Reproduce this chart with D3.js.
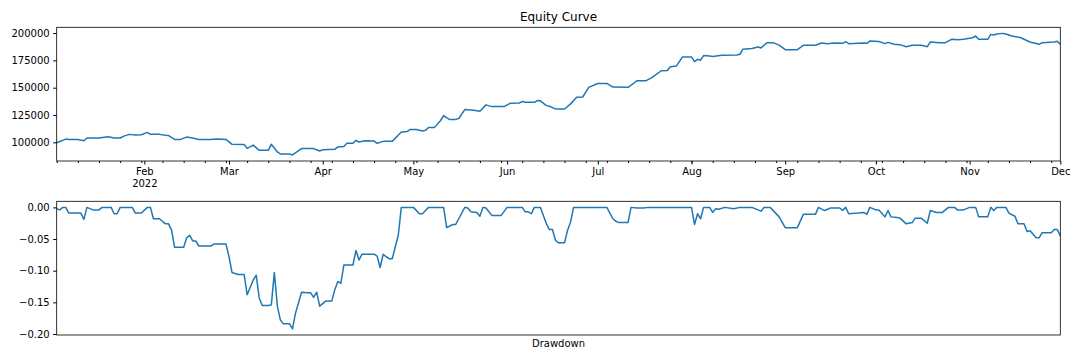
<!DOCTYPE html>
<html>
<head>
<meta charset="utf-8">
<script src="https://cdn.jsdelivr.net/npm/d3@7"></script>
<style>
  body { margin: 0; background: #fff; }
  svg { display: block; font-family: "DejaVu Sans", sans-serif; }
</style>
</head>
<body>
<svg id="chart" width="1080" height="360"></svg>
<script>
// equity curve
const equityDates = [
  "2022-01-03","2022-01-06","2022-01-07","2022-01-10","2022-01-12","2022-01-13","2022-01-17","2022-01-20",
  "2022-01-22","2022-01-24","2022-01-25","2022-01-27","2022-01-29","2022-01-31","2022-02-02","2022-02-03",
  "2022-02-06","2022-02-08","2022-02-09","2022-02-11","2022-02-13","2022-02-15","2022-02-17","2022-02-19",
  "2022-02-23","2022-02-25","2022-02-28","2022-03-02","2022-03-06","2022-03-07","2022-03-09","2022-03-11",
  "2022-03-14","2022-03-15","2022-03-17","2022-03-18","2022-03-21","2022-03-22","2022-03-25","2022-03-29",
  "2022-03-31","2022-04-01","2022-04-05","2022-04-06","2022-04-08","2022-04-09","2022-04-11","2022-04-12",
  "2022-04-13","2022-04-15","2022-04-18","2022-04-19","2022-04-21","2022-04-24","2022-04-27","2022-04-29",
  "2022-04-30","2022-05-02","2022-05-04","2022-05-05","2022-05-06","2022-05-08","2022-05-10","2022-05-11",
  "2022-05-13","2022-05-15","2022-05-16","2022-05-18","2022-05-21","2022-05-23","2022-05-25","2022-05-27",
  "2022-05-31","2022-06-02","2022-06-05","2022-06-06","2022-06-07","2022-06-10","2022-06-11","2022-06-12",
  "2022-06-14","2022-06-15","2022-06-17","2022-06-20","2022-06-22","2022-06-24","2022-06-26","2022-06-28",
  "2022-07-01","2022-07-04","2022-07-06","2022-07-11","2022-07-13","2022-07-14","2022-07-17","2022-07-19",
  "2022-07-22","2022-07-24","2022-07-25","2022-07-27","2022-07-29","2022-08-01","2022-08-02","2022-08-03",
  "2022-08-04","2022-08-05","2022-08-07","2022-08-08","2022-08-11","2022-08-16","2022-08-17","2022-08-18",
  "2022-08-21","2022-08-23","2022-08-24","2022-08-26","2022-08-28","2022-08-30","2022-09-01","2022-09-05",
  "2022-09-07","2022-09-11","2022-09-13","2022-09-15","2022-09-17","2022-09-20","2022-09-21","2022-09-22",
  "2022-09-27","2022-09-28","2022-09-29","2022-10-02","2022-10-04","2022-10-05","2022-10-07","2022-10-09",
  "2022-10-11","2022-10-13","2022-10-16","2022-10-18","2022-10-19","2022-10-22","2022-10-24","2022-10-26",
  "2022-10-28","2022-10-30","2022-11-02","2022-11-03","2022-11-04","2022-11-07","2022-11-08","2022-11-09",
  "2022-11-10","2022-11-12","2022-11-13","2022-11-15","2022-11-18","2022-11-19","2022-11-21","2022-11-24",
  "2022-11-25","2022-11-29","2022-11-30","2022-12-01"
];
const equityValues = [
  99600,103000,102600,102600,101500,103900,104000,105200,
  103900,104000,105500,107300,106800,107000,109100,107300,
  107300,106400,106200,102700,102700,104800,103900,102700,
  102700,103000,102700,98200,98000,94500,97500,92700,
  92700,98200,91200,89400,89400,88500,94300,94300,
  92100,93300,93600,95800,96100,99100,99100,101800,
  100300,101500,101200,99100,100900,100900,109400,110000,
  111800,111700,110300,111000,113600,113700,120000,124500,
  120900,121000,121800,130000,129400,128500,134300,132700,
  132700,135700,136000,137300,136600,136600,138200,138000,
  133600,133000,130600,130500,135200,141200,141500,150300,
  153900,153900,150600,150300,154300,156400,156400,159400,
  165500,165700,169100,169800,178200,178200,173900,176000,
  175200,179400,179100,178600,179700,180000,180600,185200,
  185800,187300,186400,191200,191200,189000,184800,184800,
  188800,188800,190900,190300,191000,190600,192100,190300,
  190900,190600,192700,192200,190300,191500,189700,189400,
  187500,188900,188900,187500,191800,191200,191200,194300,
  193900,194300,195700,197300,194300,194300,198800,198200,
  199100,199700,199100,197300,195700,194300,191800,189700,
  191200,191800,192400,189700
];

// drawdown, plotted against row number (no x ticks)
const ddIndex = [
  0,1,2,3,4,8,9,10,12,14,15,18,19,20,21,25,26,28,30,31,32,34,36,37,38,39,42,43,44,45,46,47,
  51,52,56,57,58,60,62,63,65,66,67,68,70,71,72,73,74,75,77,78,79,81,83,84,85,86,87,89,91,92,
  93,94,95,98,99,100,101,105,106,107,108,109,110,111,113,114,118,120,121,122,123,128,129,131,
  132,133,135,136,137,139,140,141,142,144,147,149,154,155,156,157,158,160,162,163,164,165,166,
  168,169,170,171,182,184,185,186,189,190,192,194,196,210,211,212,213,214,216,217,218,219,221,
  224,226,230,233,234,236,239,241,245,247,251,252,254,256,259,260,261,262,265,267,268,269,271,
  272,274,275,276,278,279,281,283,284,286,288,289,291,293,295,297,298,300,302,304,305,308,309,
  310,311,314,315,317,318,320,321,322,324,325,326,329,330,331,332
];
const ddValues = [
  -0.002,-0.004,0,0,-0.009,-0.009,-0.019,0,-0.004,-0.004,0,0,-0.010,-0.010,0,0,-0.009,-0.009,0,0,-0.018,-0.018,-0.026,-0.026,-0.036,-0.063,-0.063,-0.048,-0.044,-0.053,-0.053,-0.061,
  -0.061,-0.058,-0.058,-0.078,-0.103,-0.106,-0.106,-0.138,-0.115,-0.107,-0.143,-0.155,-0.155,-0.154,-0.103,-0.156,-0.178,-0.184,-0.184,-0.192,-0.167,-0.134,-0.135,-0.135,-0.142,-0.134,-0.156,-0.148,-0.148,-0.130,
  -0.117,-0.120,-0.091,-0.091,-0.068,-0.083,-0.074,-0.074,-0.077,-0.095,-0.074,-0.078,-0.081,-0.081,-0.044,0,0,-0.010,-0.010,-0.005,0,0,-0.032,-0.027,
  -0.027,-0.018,0,-0.001,-0.007,-0.008,-0.014,0,-0.001,-0.013,-0.013,0,0,-0.007,-0.007,-0.010,0,0,-0.026,-0.035,-0.035,-0.052,-0.056,
  -0.056,-0.036,-0.023,0,0,-0.018,-0.022,-0.024,-0.024,0,-0.001,-0.001,0,0,-0.027,-0.010,-0.018,0,0,-0.008,-0.002,-0.003,0,
  -0.002,0,0,-0.006,0,0,-0.015,-0.032,-0.032,-0.011,-0.011,0,-0.005,-0.001,-0.001,-0.005,0,-0.010,-0.009,-0.008,-0.011,0,-0.004,
  -0.004,-0.015,-0.005,-0.015,-0.016,-0.017,-0.026,-0.024,-0.017,-0.017,-0.025,-0.005,-0.008,-0.008,0,0,-0.004,-0.004,0,0,-0.015,-0.015,0,
  -0.005,0,0,-0.009,-0.014,-0.026,-0.026,-0.038,-0.037,-0.048,-0.048,-0.040,-0.040,-0.035,-0.035,-0.045
];

const equityTicks = [100000, 125000, 150000, 175000, 200000];
const ddTicks = [0, -0.05, -0.10, -0.15, -0.20];

const parseDate = d3.timeParse("%Y-%m-%d");
const equity = equityDates.map((d, i) => ({ date: parseDate(d), value: equityValues[i] }));
const drawdown = ddIndex.map((d, i) => ({ idx: d, value: ddValues[i] }));

const svg = d3.select("#chart");
const lineColour = "#1f77b4";
const left = 56.7, right = 1060.3;

// matplotlib style autoscale: 5% margin around the data
function padded(extent) {
  const pad = (extent[1] - extent[0]) * 0.05;
  return [extent[0] - pad, extent[1] + pad];
}

// ---------- top: equity curve ----------
const top1 = 27.3, bottom1 = 161;
const xTime = d3.scaleTime()
  .domain([parseDate("2022-01-03"), parseDate("2022-12-01")])
  .range([left, right]);
const yEquity = d3.scaleLinear()
  .domain(padded(d3.extent(equityValues)))
  .range([bottom1, top1]);

const g1 = svg.append("g");

g1.append("path")
  .datum(equity)
  .attr("fill", "none")
  .attr("stroke", lineColour)
  .attr("stroke-width", 1.5)
  .attr("stroke-linejoin", "round")
  .attr("d", d3.line().x(d => xTime(d.date)).y(d => yEquity(d.value)));

// weekly minor ticks (Mondays)
g1.append("g")
  .attr("transform", `translate(0,${bottom1})`)
  .call(d3.axisBottom(xTime)
    .tickValues(d3.timeMonday.range(parseDate("2022-01-03"), parseDate("2022-12-02")))
    .tickSize(2).tickFormat(""))
  .call(g => g.select(".domain").remove());

// monthly major ticks
const monthFmt = d3.timeFormat("%b");
const xMajor = g1.append("g")
  .attr("transform", `translate(0,${bottom1})`)
  .call(d3.axisBottom(xTime)
    .tickValues(d3.timeMonth.range(parseDate("2022-02-01"), parseDate("2022-12-02")))
    .tickSize(3.5).tickPadding(3.5).tickFormat(monthFmt));
xMajor.select(".domain").remove();
xMajor.selectAll("text").attr("font-size", 10).attr("fill", "#000").attr("font-family", "DejaVu Sans");
// year below the first month label
xMajor.selectAll(".tick").filter((d, i) => i === 0)
  .append("text")
  .attr("fill", "#000")
  .attr("y", 3.5 + 3.5 + 11.6)
  .attr("dy", "0.71em")
  .attr("font-size", 10)
  .attr("font-family", "DejaVu Sans")
  .text(d => d3.timeFormat("%Y")(d));

const yAx1 = g1.append("g")
  .attr("transform", `translate(${left},0)`)
  .call(d3.axisLeft(yEquity).tickValues(equityTicks).tickSize(3.5).tickPadding(3.5).tickFormat(d3.format("d")));
yAx1.select(".domain").remove();
yAx1.selectAll("text").attr("font-size", 10).attr("fill", "#000").attr("font-family", "DejaVu Sans");

g1.append("rect")
  .attr("x", left).attr("y", top1)
  .attr("width", right - left).attr("height", bottom1 - top1)
  .attr("fill", "none").attr("stroke", "#000").attr("stroke-width", 0.8);

svg.append("text")
  .attr("x", (left + right) / 2)
  .attr("y", top1 - 6)
  .attr("text-anchor", "middle")
  .attr("font-size", 12)
  .text("Equity Curve");

// ---------- bottom: drawdown ----------
const top2 = 201.3, bottom2 = 335;
const xIdx = d3.scaleLinear()
  .domain(d3.extent(ddIndex))
  .range([left, right]);
const yDd = d3.scaleLinear()
  .domain(padded(d3.extent(ddValues)))
  .range([bottom2, top2]);

const g2 = svg.append("g");

g2.append("path")
  .datum(drawdown)
  .attr("fill", "none")
  .attr("stroke", lineColour)
  .attr("stroke-width", 1.5)
  .attr("stroke-linejoin", "round")
  .attr("d", d3.line().x(d => xIdx(d.idx)).y(d => yDd(d.value)));

const yAx2 = g2.append("g")
  .attr("transform", `translate(${left},0)`)
  .call(d3.axisLeft(yDd).tickValues(ddTicks).tickSize(3.5).tickPadding(3.5).tickFormat(d3.format(".2f")));
yAx2.select(".domain").remove();
yAx2.selectAll("text").attr("font-size", 10).attr("fill", "#000").attr("font-family", "DejaVu Sans");

g2.append("rect")
  .attr("x", left).attr("y", top2)
  .attr("width", right - left).attr("height", bottom2 - top2)
  .attr("fill", "none").attr("stroke", "#000").attr("stroke-width", 0.8);

svg.append("text")
  .attr("x", (left + right) / 2)
  .attr("y", bottom2 + 12)
  .attr("text-anchor", "middle")
  .attr("font-size", 10)
  .text("Drawdown");
</script>
</body>
</html>
